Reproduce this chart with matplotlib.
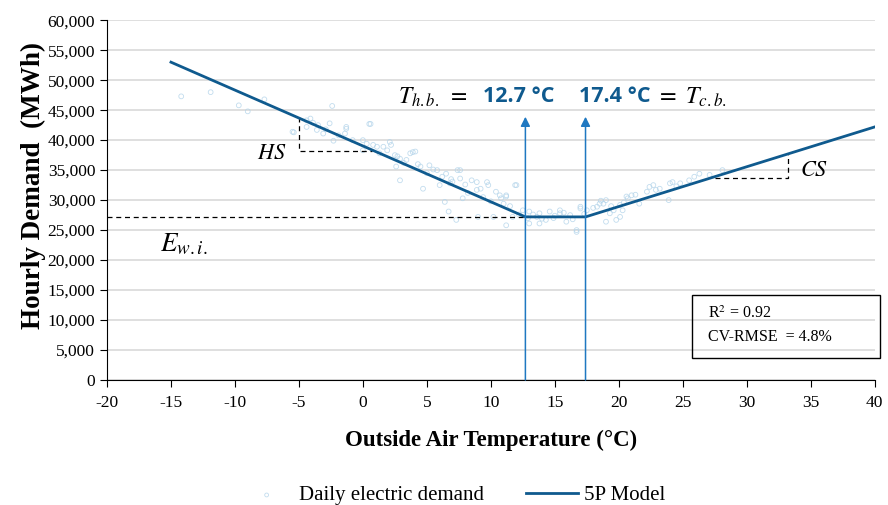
import numpy as np
import matplotlib
matplotlib.use("Agg")
import matplotlib.pyplot as plt
from matplotlib.patches import Rectangle

plt.rcParams['font.family'] = ['Liberation Serif', 'DejaVu Serif']
plt.rcParams['mathtext.fontset'] = 'stix'
plt.rcParams['axes.unicode_minus'] = False

# daily electric demand
temp = [-14.2, -11.9, -9.7, -9.0, -7.7, -5.4, -5.5, -4.1, -4.4, -4.4, -3.5, -3.6, -3.1,
        -2.4, -2.6, -2.3, -1.3, -1.4, -0.8, -1.3, 0.5, 0.6, 0.0, 0.0, 0.8, 1.1, 1.6,
        2.1, 2.2, 2.5, 2.6, 2.9, 2.9, 3.7, 3.9, 4.1, 4.5, 4.7, 5.2, 5.8, 6.0, 6.5,
        6.4, 6.7, 6.8, 7.3, 7.4, 7.6, 7.6, 7.8, 8.5, 8.9, 8.9, 9.0, 9.7, 9.8, 10.2,
        10.4, 10.7, 11.0, 11.2, 11.2, 11.2, 11.7, 11.9, 12.0, 12.5, 13.0, 13.0, 13.6,
        13.8, 13.8, 14.3, 14.6, 15.4, 15.4, 15.9, 16.7, 16.7, 17.0, 17.0, 17.5, 18.3,
        18.5, 18.8, 19.0, 19.0, 19.3, 19.6, 19.8, 20.1, 20.1, 20.3, 20.6, 20.7, 21.6,
        22.2, 22.4, 22.7, 23.9, 24.0, 24.2, 24.8, 25.5, 26.3, 27.1, 28.1,
        1.3, 3.2, 5.0, 6.2, 7.0, 8.2, 9.4, 10.0, 12.2, 14.9, 16.2, 18.0, 21.0, 23.2,
        -3.9, -2.9, -1.9, 0.3, 1.9, 2.7, 3.4, 4.3, 5.5, 6.9, 8.0, 9.2, 10.8, 11.5,
        12.9, 13.3, 14.0, 15.0, 15.7, 16.4, 17.3, 18.6, 19.4, 20.4, 21.3, 22.9, 24.5, 25.9]
demand = [47300, 48000, 45800, 44800, 46800, 41300, 41400, 43600, 42200, 43300, 42500, 41700, 41100,
          45700, 42800, 39900, 41900, 41100, 40000, 42200, 42700, 42700, 40000, 38300, 39200, 38900, 38900,
          39700, 39200, 37500, 35600, 36900, 33300, 37800, 38000, 38100, 35600, 31900, 35800, 35000, 32500, 34400,
          29700, 28100, 32800, 26700, 35000, 33600, 35000, 30300, 33300, 31700, 33000, 27200, 33000, 32500, 27200,
          31400, 30800, 29400, 30600, 30800, 25800, 27200, 32500, 32500, 28300, 28100, 26100, 27200,
          27800, 26100, 26700, 28100, 28300, 27800, 26400, 25000, 24700, 28900, 28600, 28300, 28900,
          29400, 29400, 30000, 26400, 27800, 28300, 26700, 29200, 27200, 28300, 30600, 30300, 29400,
          31400, 32200, 32500, 30000, 32800, 33000, 32800, 33300, 34400, 34200, 35000,
          37800, 36200, 34500, 33900, 33100, 31200, 30500, 29800, 27600, 27000, 27500, 28700, 30800, 31900,
          42900, 41800, 40800, 39400, 38300, 37300, 36700, 36000, 35100, 33500, 32600, 31900, 30300, 29000,
          27000, 27600, 26900, 27400, 27900, 26800, 27700, 29900, 29000, 29600, 30900, 31700, 32300, 33900]

# 5P model
model_t = [-15, 12.7, 17.4, 40]
model_d = [53000, 27200, 27200, 42200]
t_hb, t_cb = 12.7, 17.4
base_load = 27200

line_col = '#0f5a8e'
arrow_col = '#1f78c1'

fig = plt.figure(figsize=(8.88, 5.05), dpi=100)
ax = fig.add_axes([0.1205, 0.2475, 0.8645, 0.7125])

ax.scatter(temp, demand, s=12, facecolors='none', edgecolors='#b3d4ea',
           linewidths=0.6, alpha=0.8, label='Daily electric demand', zorder=2)
ax.plot(model_t, model_d, color=line_col, lw=2, label='5P Model', zorder=4)

# base load line
ax.plot([-20, t_hb], [base_load, base_load], ls='--', color='k', lw=0.9, dashes=(4, 3), zorder=3)
# HS triangle
ax.plot([-5, -5, 0.7], [43900, 38200, 38200], ls='--', color='k', lw=0.9, dashes=(4, 3), zorder=3)
# CS triangle
ax.plot([27.5, 33.2, 33.2], [33700, 33700, 37700], ls='--', color='k', lw=0.9, dashes=(4, 3), zorder=3)

# balance point arrows
for t in (t_hb, t_cb):
    ax.annotate('', xy=(t, 43900), xytext=(t, 0),
                arrowprops=dict(arrowstyle='-|>', color=arrow_col, lw=1.1,
                                mutation_scale=14, shrinkA=0, shrinkB=0), zorder=5)

ax.text(8.2, 47200, r'$T_{h.b.}\ =$', fontsize=17, ha='right', va='center')
ax.text(12.2, 47300, '12.7 °C', fontsize=15.5, fontweight='bold', color=line_col,
        family='Open Sans', ha='center', va='center')
ax.text(19.7, 47300, '17.4 °C', fontsize=15.5, fontweight='bold', color=line_col,
        family='Open Sans', ha='center', va='center')
ax.text(22.9, 47200, r'$=\ T_{c.b.}$', fontsize=17.5, ha='left', va='center')
ax.text(-7.1, 37600, r'$HS$', fontsize=16, ha='center', va='center')
ax.text(35.3, 34700, r'$CS$', fontsize=16, ha='center', va='center')
ax.text(-14.0, 22600, r'$E_{w.i.}$', fontsize=19.5, ha='center', va='center')

# statistics box
ax.add_patch(Rectangle((0.762, 0.061), 0.2445, 0.175, transform=ax.transAxes,
                       fill=False, edgecolor='k', lw=1, clip_on=False, zorder=6))
ax.text(0.7826, 0.183, 'R$^2$ = 0.92', transform=ax.transAxes, fontsize=11.5, va='center')
ax.text(0.7826, 0.119, 'CV-RMSE  = 4.8%', transform=ax.transAxes, fontsize=11.5, va='center')

ax.set_xlim(-20, 40)
ax.set_ylim(0, 60000)
ax.set_xticks(np.arange(-20, 41, 5))
ax.set_yticks(np.arange(0, 60001, 5000))
ax.yaxis.set_major_formatter(matplotlib.ticker.FuncFormatter(lambda v, p: f'{int(v):,}'))
ax.tick_params(labelsize=12.5, length=5, color='k')
ax.tick_params(axis='x', pad=6)
ax.grid(axis='y', color='#d9d9d9', lw=1.2)
ax.set_axisbelow(True)
for s in ('top', 'right'):
    ax.spines[s].set_visible(False)

ax.set_xlabel('Outside Air Temperature (°C)', fontsize=16.5, fontweight='bold', labelpad=13)
ax.set_ylabel('Hourly Demand  (MWh)', fontsize=19.5, fontweight='bold')
ax.yaxis.set_label_coords(-0.079, 0.54)

fig.legend(loc='lower center', bbox_to_anchor=(0.51, -0.038), ncol=2, frameon=False,
           fontsize=15, handlelength=2.5, handletextpad=0.3, columnspacing=2.0,
           markerscale=0.8)

fig.savefig('out.png', dpi=100)
